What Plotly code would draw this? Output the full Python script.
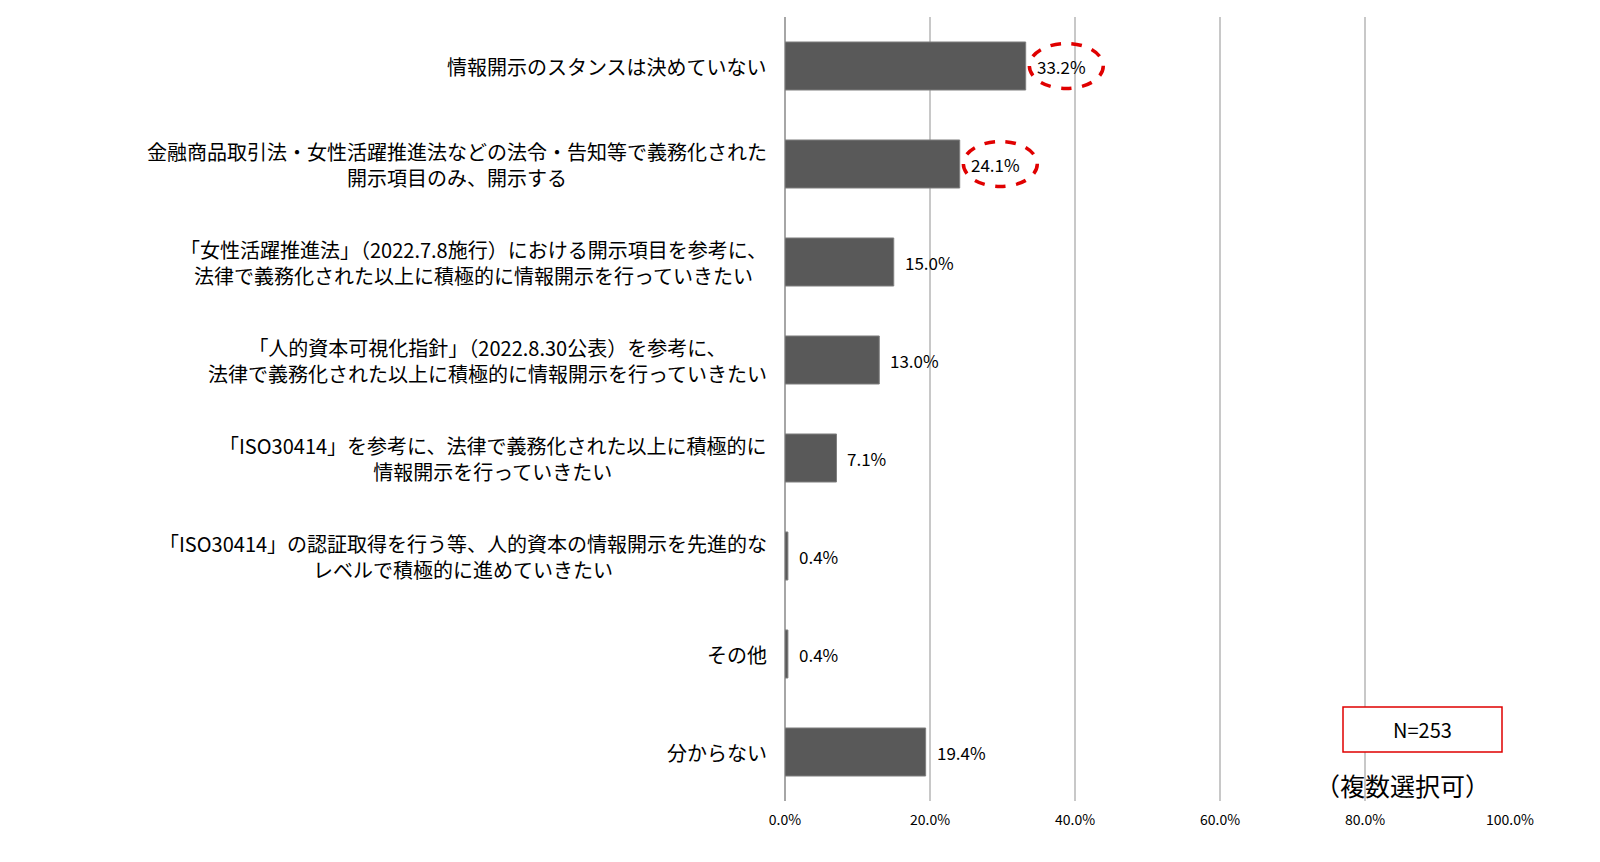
import plotly.graph_objects as go

categories = [
    "情報開示のスタンスは決めていない",
    "金融商品取引法・女性活躍推進法などの法令・告知等で義務化された<br>開示項目のみ、開示する",
    "「女性活躍推進法」（2022.7.8施行）における開示項目を参考に、<br>法律で義務化された以上に積極的に情報開示を行っていきたい",
    "「人的資本可視化指針」（2022.8.30公表）を参考に、<br>法律で義務化された以上に積極的に情報開示を行っていきたい",
    "「ISO30414」を参考に、法律で義務化された以上に積極的に<br>情報開示を行っていきたい",
    "「ISO30414」の認証取得を行う等、人的資本の情報開示を先進的な<br>レベルで積極的に進めていきたい",
    "その他",
    "分からない",
]
values = [33.2, 24.1, 15.0, 13.0, 7.1, 0.4, 0.4, 19.4]
highlighted = [0, 1]  # circled in red
x_ticks = [0, 20, 40, 60, 80, 100]
x_tick_labels = ["0.0%", "20.0%", "40.0%", "60.0%", "80.0%", "100.0%"]
sample_note = "N=253"
multi_note = "（複数選択可）"

jp_font = "Noto Sans CJK JP"

# plot area in pixels (from the reference)
L, R, T, B = 785, 1510, 17, 801
W, H = R - L, B - T


def px_x(p):
    return (p - L) / W


def px_y(p):
    return (B - p) / H


fig = go.Figure()
fig.add_trace(go.Bar(
    x=values,
    y=list(range(len(categories))),
    orientation="h",
    width=0.49,
    marker_color="#595959",
    marker_line_color="#7f7f7f",
    marker_line_width=1,
    hoverinfo="skip",
))

annotations = []
# category labels, centred lines, right edge near the axis
for i, cat in enumerate(categories):
    annotations.append(dict(
        x=0, xref="paper", y=i, yref="y",
        text=cat, showarrow=False,
        xanchor="right", yanchor="middle", align="center",
        xshift=-16,
        font=dict(family=jp_font, size=20, color="#000000"),
    ))
# value labels
for i, v in enumerate(values):
    annotations.append(dict(
        x=v, xref="x", y=i, yref="y",
        text="{:.1f}%".format(v), showarrow=False,
        xanchor="left", yanchor="middle", xshift=9,
        font=dict(family=jp_font, size=17, color="#000000"),
    ))
annotations.append(dict(
    x=px_x(1422), y=px_y(729), xref="paper", yref="paper",
    text=sample_note, showarrow=False, xanchor="center", yanchor="middle",
    font=dict(family=jp_font, size=20, color="#000000"),
))
annotations.append(dict(
    x=px_x(1402), y=px_y(785), xref="paper", yref="paper",
    text=multi_note, showarrow=False, xanchor="center", yanchor="middle",
    font=dict(family=jp_font, size=25, color="#000000"),
))

shapes = []
for i in highlighted:
    v = values[i]
    shapes.append(dict(
        type="circle", xref="x", yref="y",
        x0=v + 0.5, x1=v + 10.7, y0=i - 0.23, y1=i + 0.23,
        line=dict(color="#e00000", width=3.5, dash="dash"),
    ))
shapes.append(dict(
    type="rect", xref="paper", yref="paper",
    x0=px_x(1343), x1=px_x(1502), y0=px_y(752), y1=px_y(707),
    line=dict(color="#e00000", width=1.5),
    fillcolor="white", layer="above",
))

fig.update_layout(
    width=1600, height=862,
    margin=dict(l=L, r=1600 - R, t=T, b=862 - B),
    paper_bgcolor="white",
    plot_bgcolor="white",
    showlegend=False,
    annotations=annotations,
    shapes=shapes,
    xaxis=dict(
        range=[0, 100],
        tickvals=x_ticks,
        ticktext=x_tick_labels,
        showgrid=True,
        gridcolor="#c8c8c8",
        gridwidth=1.5,
        zeroline=True,
        zerolinecolor="#a6a6a6",
        zerolinewidth=2,
        showline=False,
        ticks="outside",
        ticklen=6,
        tickcolor="rgba(0,0,0,0)",
        tickfont=dict(family=jp_font, size=14, color="#000000"),
        fixedrange=True,
    ),
    yaxis=dict(
        range=[len(categories) - 0.5, -0.5],
        showticklabels=False,
        showgrid=False,
        zeroline=False,
        showline=False,
        fixedrange=True,
    ),
)

fig.write_html("out.html", config={"displayModeBar": False},
               post_script="document.body.style.margin='0';")
